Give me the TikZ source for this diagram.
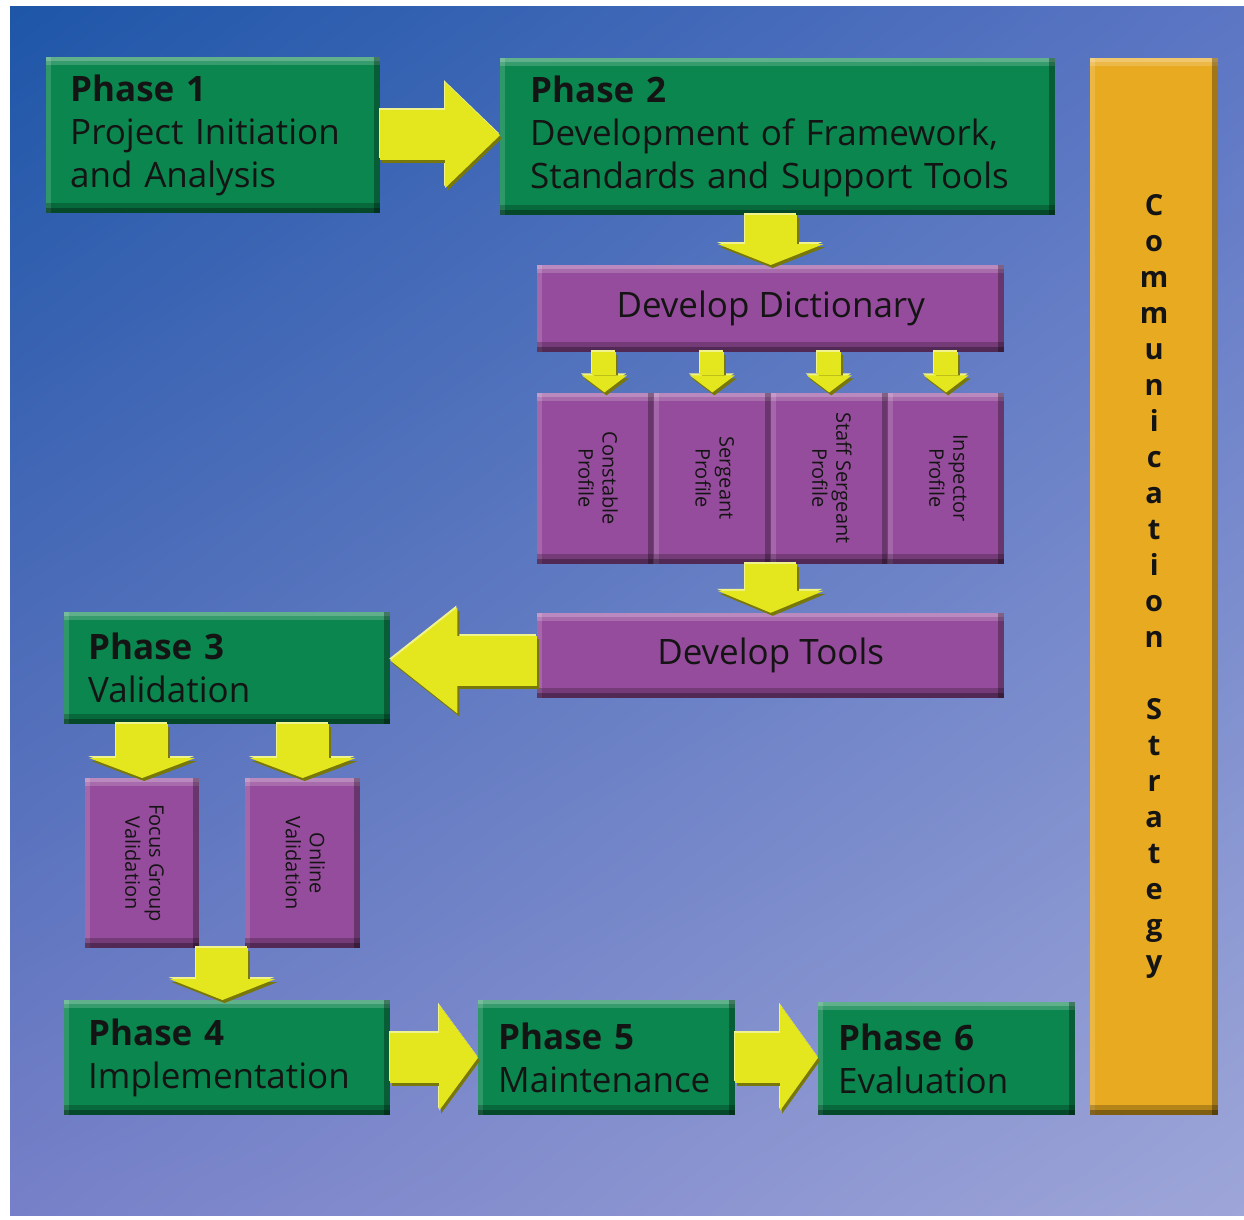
\documentclass[tikz,border=0pt]{standalone}
\usepackage{fontspec}
\setmainfont{Open Sans}
\usetikzlibrary{positioning,arrows.meta,calc,shadings}

\definecolor{bgul}{RGB}{30,86,168}
\definecolor{bgur}{RGB}{92,118,196}
\definecolor{bgll}{RGB}{118,128,200}
\definecolor{bglr}{RGB}{158,166,216}
\definecolor{phgreen}{RGB}{10,134,78}
\definecolor{stpurple}{RGB}{150,76,156}
\definecolor{comorange}{RGB}{232,170,32}
\definecolor{arryel}{RGB}{228,230,30}
\definecolor{arrlight}{RGB}{240,242,140}
\definecolor{arrshade}{RGB}{120,120,10}
\definecolor{txt}{RGB}{20,20,20}

% yellow block arrow with highlight and shadow
\newcommand\yarrow[3]{%
  \draw[#1, arrlight, transform canvas={shift={(-1pt,2pt)}}] #2 -- #3;
  \draw[#1, arrshade, transform canvas={shift={(2pt,-3pt)}}] #2 -- #3;
  \draw[#1, arryel] #2 -- #3;}

\begin{document}
\begin{tikzpicture}[x=1pt, y=-1pt,
  bevel/.style={path picture={
    \fill[white,opacity=.35] (path picture bounding box.north west) rectangle ([yshift=-4pt]path picture bounding box.north east);
    \fill[white,opacity=.18] ([yshift=-4pt]path picture bounding box.north west) rectangle ([yshift=-8pt]path picture bounding box.north east);
    \fill[white,opacity=.15] (path picture bounding box.south west) rectangle ([xshift=5pt]path picture bounding box.north west);
    \fill[black,opacity=.3] (path picture bounding box.south east) rectangle ([xshift=-6pt]path picture bounding box.north east);
    \fill[black,opacity=.45] (path picture bounding box.south west) rectangle ([yshift=5pt]path picture bounding box.south east);
    \fill[black,opacity=.22] ([yshift=5pt]path picture bounding box.south west) rectangle ([yshift=10pt]path picture bounding box.south east);
  }},
  phase/.style={bevel, fill=phgreen, anchor=north west, inner xsep=24pt, inner ysep=0pt, align=left, text=txt, font=\fontsize{35}{43}\selectfont},
  task/.style={bevel, fill=stpurple, anchor=north west, inner sep=0pt, minimum width=467pt, text=txt, font=\fontsize{35}{43}\selectfont},
  prof/.style={bevel, fill=stpurple, anchor=north west, inner sep=0pt, minimum width=116.5pt, minimum height=171pt, text=txt, font=\fontsize{20}{24}\selectfont},
  harr/.style={line width=50pt, -{Triangle[length=#1 0 0, width=106pt 0 0, line width=0pt 0 0]}},
  varr/.style={line width=52pt, -{Triangle[length=#1 0 0, width=106pt 0 0, line width=0pt 0 0]}},
  sarr/.style={line width=24pt, -{Triangle[length=17pt 0 0, width=45pt 0 0, line width=0pt 0 0]}},
]
\useasboundingbox (0,0) rectangle (1244,1219);
\fill[white] (0,0) rectangle (1244,1219);
\shade[upper left=bgul, upper right=bgur, lower left=bgll, lower right=bglr] (10,6) rectangle (1244,1215);

% phases
\node[phase, text width=286pt, minimum height=156pt] (p1) at (46,57) {\textbf{Phase 1}\\Project Initiation\\and Analysis};
\node[phase, inner xsep=30pt, text width=495pt, minimum height=157pt] (p2) at (500,58) {\textbf{Phase 2}\\Development of Framework,\\Standards and Support Tools};
\node[phase, text width=278pt, minimum height=112pt] (p3) at (64,612) {\textbf{Phase 3}\\Validation};
\node[phase, text width=278pt, minimum height=115pt] (p4) at (64,1000) {\textbf{Phase 4}\\Implementation};
\node[phase, inner xsep=20pt, text width=217pt, minimum height=115pt] (p5) at (478,1000) {\textbf{Phase 5}\\Maintenance};
\node[phase, inner xsep=20pt, text width=217pt, minimum height=113pt] (p6) at (818,1002) {\textbf{Phase 6}\\Evaluation};

% dictionary and profiles
\node[task, minimum height=87pt] (dict) at (537,265) {Develop Dictionary};
\node[prof, below right=40pt and 0pt of dict.south west] (con) {\rotatebox{-90}{\begin{tabular}{@{}c@{}}Constable\\Profile\end{tabular}}};
\node[prof, right=0pt of con] (ser) {\rotatebox{-90}{\begin{tabular}{@{}c@{}}Sergeant\\Profile\end{tabular}}};
\node[prof, right=0pt of ser] (stf) {\rotatebox{-90}{\begin{tabular}{@{}c@{}}Staff Sergeant\\Profile\end{tabular}}};
\node[prof, right=0pt of stf] (ins) {\rotatebox{-90}{\begin{tabular}{@{}c@{}}Inspector\\Profile\end{tabular}}};
\node[task, minimum height=85pt, below right=49pt and 0pt of con.south west] (tools) {Develop Tools};

% validation
\node[prof, minimum width=114pt, minimum height=170pt] (focus) at (85,778) {\rotatebox{-90}{\begin{tabular}{@{}c@{}}Focus Group\\Validation\end{tabular}}};
\node[prof, minimum width=115pt, minimum height=170pt] (online) at (245,778) {\rotatebox{-90}{\begin{tabular}{@{}c@{}}Online\\Validation\end{tabular}}};

% communication strategy
\node[bevel, fill=comorange, anchor=north west, inner sep=0pt, minimum width=128pt, minimum height=1057pt, align=center, text=txt, font=\bfseries\fontsize{29}{36}\selectfont] (comm) at (1090,58)
  {C\\o\\m\\m\\u\\n\\i\\c\\a\\t\\i\\o\\n\\[36pt]S\\t\\r\\a\\t\\e\\g\\y};

% arrows
\yarrow{harr=55pt}{(p1.east)}{(p1.east -| p2.west)}
\yarrow{varr=21pt}{(dict.north |- p2.south)}{(dict.north)}
\yarrow{sarr}{([xshift=9pt]con.north |- dict.south)}{([xshift=9pt]con.north)}
\yarrow{sarr}{(ser.north |- dict.south)}{(ser.north)}
\yarrow{sarr}{(stf.north |- dict.south)}{(stf.north)}
\yarrow{sarr}{(ins.north |- dict.south)}{(ins.north)}
\yarrow{varr=22pt}{(tools.north |- con.south)}{(tools.north)}
\yarrow{harr=67pt}{([yshift=-5pt]tools.west)}{([yshift=-5pt]tools.west -| p3.east)}
\yarrow{varr=20pt}{(focus.north |- p3.south)}{(focus.north)}
\yarrow{varr=20pt}{(online.north |- p3.south)}{(online.north)}
\coordinate (vm) at ($(focus.south)!.5!(online.south)$);
\yarrow{varr=21pt}{(vm)}{(vm |- p4.north)}
\yarrow{harr=39pt}{(p4.east)}{(p4.east -| p5.west)}
\yarrow{harr=38pt}{(p5.east)}{(p5.east -| p6.west)}
\end{tikzpicture}
\end{document}
